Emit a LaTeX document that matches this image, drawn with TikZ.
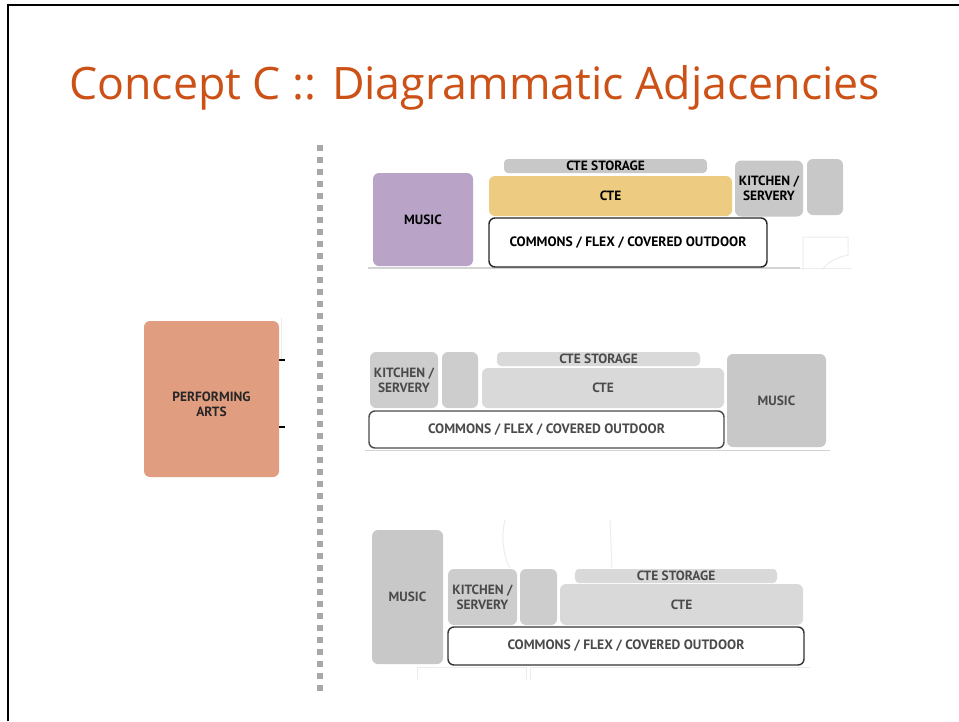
\documentclass[tikz,border=0pt]{standalone}
\usepackage{fontspec}
\setmainfont{Open Sans}
\newfontfamily\labfont{PT Sans}
\definecolor{titleor}{HTML}{CC5116}
\definecolor{musicp}{HTML}{B9A3C7}
\definecolor{cteyel}{HTML}{EDCB80}
\definecolor{midgray}{HTML}{C8C8C8}
\definecolor{ltgray}{HTML}{D9D9D9}
\definecolor{dkgray}{HTML}{CDCDCD}
\definecolor{salmon}{HTML}{E19D7F}
\definecolor{sketch}{HTML}{ECECEC}
\definecolor{dashg}{HTML}{A8A8A8}
\definecolor{txtg}{HTML}{4A4A4A}
\tikzset{
  room/.style={rounded corners=6pt, inner sep=0pt, align=center,
    font=\labfont\bfseries\fontsize{13.4}{15}\selectfont},
  comtxt/.style={font=\labfont\bfseries\fontsize{13.6}{15}\selectfont},
  graytxt/.style={text=txtg},
  sketchline/.style={draw=sketch, line width=1pt}
}
\begin{document}
\begin{tikzpicture}[x=1pt,y=-1pt]
\useasboundingbox (0,0) rectangle (959,721);
% slide frame
\draw[line width=2.2pt] (8,721) -- (8,5) -- (959,5);
% title
\node[anchor=base west, inner sep=0pt, text=titleor, font=\fontsize{44.7}{50}\selectfont] (title) at (69,99) {Concept C :: Diagrammatic Adjacencies};
% dashed separator
\coordinate (dtop) at (320,145);
\coordinate (dbot) at (320,691);
\draw[dashg, line width=6pt, dash pattern=on 6pt off 6pt] (dtop) -- (dbot);

% performing arts
\draw[draw=sketch, line width=1pt] (281,318) -- (281,358);
\draw[line width=1.2pt] (279,360) -- (285,360);
\draw[line width=1.2pt] (279,427) -- (285,427);
\draw[draw=gray!70!black, line width=2pt] (203,476) -- (265,476);
\node[room, fill=salmon, minimum width=135pt, minimum height=156pt] (pa) at (211.5,399) {};
\node[room, text=black!85] (patxt) at (211.5,404) {PERFORMING\\ARTS};

% ---------- diagram 1 ----------
\draw[draw=midgray!80, line width=1.5pt] (368,268) -- (800,268);
\draw[sketchline] (800,268) -- (852,268);
\draw[sketchline] (803,270) -- (803,237) -- (848,237) -- (848,255) .. controls (835,258) and (828,262) .. (822,270);
\node[room, fill=musicp, minimum width=100pt, minimum height=93pt] (mus1) at (423,219.5) {MUSIC};
\node[room, rounded corners=4pt, fill=midgray, minimum width=203pt, minimum height=14pt] (stor1) at (605.5,166) {CTE STORAGE};
\node[room, fill=cteyel, minimum width=243pt, minimum height=40pt] (cte1) at (610.5,196) {CTE};
\node[room, fill=midgray, minimum width=68pt, minimum height=56pt] (kit1) at (769,188.5) {KITCHEN /\\SERVERY};
\node[room, fill=midgray, minimum width=36pt, minimum height=56pt] (sm1) at (825,187) {};
\node[room, comtxt, fill=white, draw=black!85, line width=1.4pt, minimum width=278pt, minimum height=49pt] (com1) at (628,242.5) {COMMONS / FLEX / COVERED OUTDOOR};

% ---------- diagram 2 ----------
\draw[draw=midgray!80, line width=1pt] (365,450) -- (830,450);
\node[room, graytxt, fill=dkgray, minimum width=68pt, minimum height=56pt] (kit2) at (404,380) {KITCHEN /\\SERVERY};
\node[room, fill=dkgray, minimum width=36pt, minimum height=56pt] (sm2) at (460,380) {};
\node[room, graytxt, rounded corners=4pt, fill=ltgray, minimum width=203pt, minimum height=14pt] (stor2) at (598.5,359) {CTE STORAGE};
\node[room, graytxt, fill=ltgray, minimum width=242pt, minimum height=40pt] (cte2) at (603,388) {CTE};
\node[room, graytxt, fill=midgray, minimum width=99pt, minimum height=93pt] (mus2) at (776.5,400.5) {MUSIC};
\node[room, comtxt, graytxt, fill=white, draw=txtg, line width=1.4pt, minimum width=355pt, minimum height=37pt] (com2) at (546.5,429.5) {COMMONS / FLEX / COVERED OUTDOOR};

% ---------- diagram 3 ----------
\draw[sketchline] (417,680) -- (417,667) -- (526,667) -- (526,680);
\draw[sketchline] (530,680) -- (530,667) -- (810,667);
\draw[sketchline] (505,520) .. controls (500,540) and (505,560) .. (510,568);
\draw[sketchline] (610,520) -- (612,568);
\node[room, graytxt, fill=midgray, minimum width=71pt, minimum height=134pt] (mus3) at (407.5,597) {MUSIC};
\node[room, graytxt, fill=dkgray, minimum width=69pt, minimum height=56pt] (kit3) at (482.5,597) {KITCHEN /\\SERVERY};
\node[room, fill=dkgray, minimum width=37pt, minimum height=56pt] (sm3) at (538.5,597) {};
\node[room, graytxt, rounded corners=4pt, fill=ltgray, minimum width=202pt, minimum height=14pt] (stor3) at (676,576) {CTE STORAGE};
\node[room, graytxt, fill=ltgray, minimum width=243pt, minimum height=41pt] (cte3) at (681.5,604.5) {CTE};
\node[room, comtxt, graytxt, fill=white, draw=black!80, line width=1.4pt, minimum width=356pt, minimum height=38pt] (com3) at (626,646) {COMMONS / FLEX / COVERED OUTDOOR};
\end{tikzpicture}
\end{document}
